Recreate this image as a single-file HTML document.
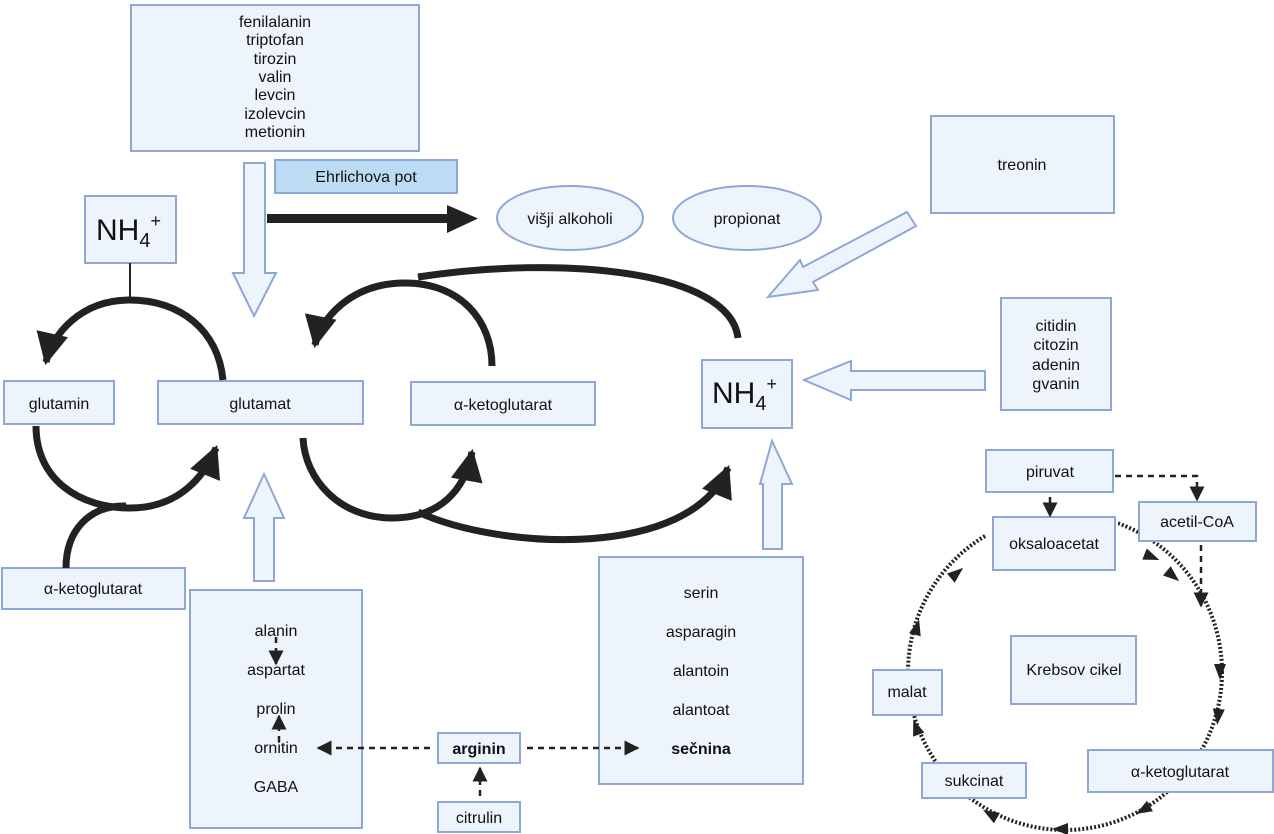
<!DOCTYPE html>
<html><head><meta charset="utf-8"><style>
html,body{margin:0;padding:0;background:#fff;}
svg{display:block;}
text{font-family:"Liberation Sans",sans-serif;fill:#111;}
</style></head><body>
<svg width="1274" height="834" viewBox="0 0 1274 834" xmlns="http://www.w3.org/2000/svg">
<defs>
<marker id="ah" viewBox="0 0 10 10" refX="9" refY="5" markerWidth="5" markerHeight="4.6" markerUnits="strokeWidth" orient="auto"><path d="M0,0 L10,5 L0,10 z" fill="#222"/></marker>
<marker id="sm" viewBox="0 0 10 10" refX="9" refY="5" markerWidth="6" markerHeight="6" markerUnits="strokeWidth" orient="auto"><path d="M0,0 L10,5 L0,10 z" fill="#222"/></marker>
</defs>
<ellipse cx="1065" cy="672" rx="157" ry="158" fill="none" stroke="#222" stroke-width="4" stroke-dasharray="2,2"/>
<rect x="986" y="495" width="132" height="50" fill="#fff"/>
<g fill="#222">
<polygon points="-8,-6 8,0 -8,6" transform="translate(1152,557) rotate(22)"/>
<polygon points="-8,-6 8,0 -8,6" transform="translate(1173,576) rotate(40)"/>
<polygon points="-8,-6 8,0 -8,6" transform="translate(1220,672) rotate(90)"/>
<polygon points="-8,-6 8,0 -8,6" transform="translate(1218,717) rotate(96)"/>
<polygon points="-8,-6 8,0 -8,6" transform="translate(1143,810) rotate(150)"/>
<polygon points="-8,-6 8,0 -8,6" transform="translate(1060,829) rotate(180)"/>
<polygon points="-8,-6 8,0 -8,6" transform="translate(990,814) rotate(210)"/>
<polygon points="-8,-6 8,0 -8,6" transform="translate(916,727) rotate(-110)"/>
<polygon points="-8,-6 8,0 -8,6" transform="translate(917,627) rotate(-75)"/>
<polygon points="-8,-6 8,0 -8,6" transform="translate(957,573) rotate(-40)"/>
</g>
<g fill="#eef4fb" stroke="#90a7d6" stroke-width="2">
<rect x="131" y="5" width="288" height="146"/>
<rect x="275" y="160" width="182" height="33" fill="#bcdcf4"/>
<rect x="85" y="196" width="91" height="67"/>
<rect x="931" y="116" width="183" height="97"/>
<ellipse cx="570" cy="218" rx="73" ry="32"/>
<ellipse cx="747" cy="218" rx="74" ry="32"/>
<rect x="4" y="381" width="110" height="43"/>
<rect x="158" y="381" width="205" height="43"/>
<rect x="411" y="382" width="184" height="43"/>
<rect x="702" y="360" width="90" height="68"/>
<rect x="1001" y="298" width="110" height="112"/>
<rect x="2" y="568" width="183" height="41"/>
<rect x="190" y="590" width="172" height="238"/>
<rect x="438" y="733" width="82" height="30"/>
<rect x="438" y="802" width="82" height="30"/>
<rect x="599" y="557" width="204" height="227"/>
<rect x="986" y="450" width="127" height="42"/>
<rect x="1139" y="502" width="117" height="39"/>
<rect x="993" y="517" width="122" height="53"/>
<rect x="1011" y="636" width="125" height="68"/>
<rect x="873" y="670" width="69" height="45"/>
<rect x="922" y="763" width="104" height="35"/>
<rect x="1088" y="750" width="185" height="42"/>
<polygon points="244,163 265,163 265,273 276,273 254,316 233,273 244,273"/>
<polygon points="907,212 916,226 813,282 818,290 768,297 800,260 803,267"/>
<polygon points="985,371 985,390 851,390 851,400 804,380 851,361 851,371"/>
<polygon points="763,549 782,549 782,484 792,484 772,441 760,484 763,484"/>
<polygon points="254,581 274,581 274,518 284,518 264,474 244,518 254,518"/>
</g>
<rect x="267" y="214" width="182" height="9" fill="#222"/>
<polygon points="447,205 478,218.5 447,233" fill="#222"/>
<line x1="130" y1="263" x2="130" y2="302" stroke="#222" stroke-width="2"/>
<g fill="none" stroke="#222" stroke-width="7">
<path d="M223,380 C218,330 180,300 130,300 C80,300 52,335 46,362" marker-end="url(#ah)"/>
<path d="M36,426 C36,480 80,508 130,508 C180,508 205,475 216,448" marker-end="url(#ah)"/>
<path d="M66,568 C66,530 90,505 126,506"/>
<path d="M492,366 C492,320 460,283 405,283 C350,283 320,320 315,345" marker-end="url(#ah)"/>
<path d="M303,438 C305,480 340,518 392,518 C440,518 465,490 472,452" marker-end="url(#ah)"/>
<path d="M418,277 C560,255 730,270 738,338"/>
<path d="M418,512 C500,550 690,560 728,468" marker-end="url(#ah)"/>
</g>
<g fill="none" stroke="#222" stroke-width="2.5" stroke-dasharray="6,5">
<path d="M430,748 L318,748" marker-end="url(#sm)"/>
<path d="M527,748 L638,748" marker-end="url(#sm)"/>
<path d="M480,796 L480,768" marker-end="url(#sm)"/>
<path d="M276,637 L276,664" marker-end="url(#sm)"/>
<path d="M279,742 L279,716" marker-end="url(#sm)"/>
<path d="M1050,497 L1050,516" marker-end="url(#sm)"/>
<path d="M1115,476 L1197,476 L1197,500" marker-end="url(#sm)"/>
<path d="M1201,545 L1201,606" marker-end="url(#sm)"/>
</g>
<g font-size="16" text-anchor="middle">
<text x="275" y="27">fenilalanin</text>
<text x="275" y="45">triptofan</text>
<text x="275" y="64">tirozin</text>
<text x="275" y="82">valin</text>
<text x="275" y="100">levcin</text>
<text x="275" y="119">izolevcin</text>
<text x="275" y="137">metionin</text>
<text x="366" y="182">Ehrlichova pot</text>
<text x="570" y="224">višji alkoholi</text>
<text x="747" y="224">propionat</text>
<text x="1022" y="170">treonin</text>
<text x="59" y="409">glutamin</text>
<text x="260" y="409">glutamat</text>
<text x="503" y="410">α-ketoglutarat</text>
<text x="1056" y="331">citidin</text>
<text x="1056" y="350">citozin</text>
<text x="1056" y="370">adenin</text>
<text x="1056" y="389">gvanin</text>
<text x="93" y="594">α-ketoglutarat</text>
<text x="276" y="636">alanin</text>
<text x="276" y="675">aspartat</text>
<text x="276" y="714">prolin</text>
<text x="276" y="753">ornitin</text>
<text x="276" y="792">GABA</text>
<text x="479" y="754" font-weight="bold">arginin</text>
<text x="479" y="823">citrulin</text>
<text x="701" y="598">serin</text>
<text x="701" y="637">asparagin</text>
<text x="701" y="676">alantoin</text>
<text x="701" y="715">alantoat</text>
<text x="701" y="754" font-weight="bold">sečnina</text>
<text x="1050" y="477">piruvat</text>
<text x="1197" y="527">acetil-CoA</text>
<text x="1054" y="549">oksaloacetat</text>
<text x="1074" y="675">Krebsov cikel</text>
<text x="907" y="697">malat</text>
<text x="974" y="786">sukcinat</text>
<text x="1180" y="777">α-ketoglutarat</text>
</g>
<text x="96" y="240" font-size="30">NH<tspan font-size="20" dy="7">4</tspan><tspan font-size="18" dy="-20">+</tspan></text>
<text x="712" y="403" font-size="30">NH<tspan font-size="20" dy="7">4</tspan><tspan font-size="18" dy="-20">+</tspan></text>
</svg>
</body></html>
